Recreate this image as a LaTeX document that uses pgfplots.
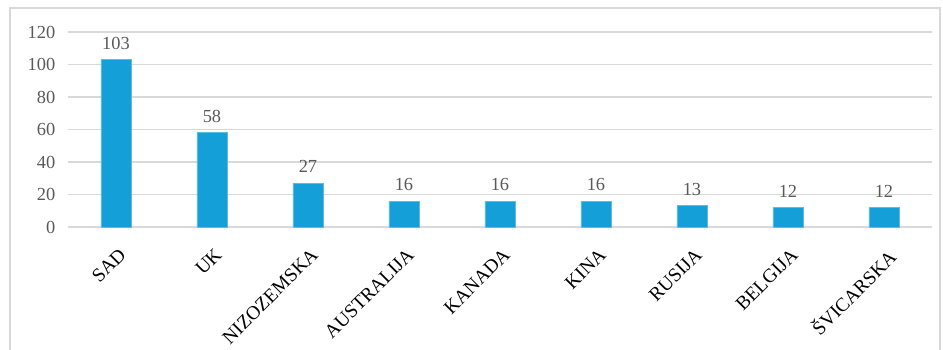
\documentclass[border=0pt]{standalone}
\usepackage{pgfplots}
\pgfplotsset{compat=1.18}
\usepackage{fontspec}
\setmainfont{Liberation Serif}
\definecolor{barblue}{HTML}{159FD9}
\definecolor{gridgray}{HTML}{D9D9D9}
\definecolor{txtgray}{HTML}{595959}
\begin{document}
\begin{tikzpicture}
\useasboundingbox (0pt,0pt) rectangle (707.25pt,262.5pt);
\draw[gridgray, line width=0.9pt] (7.5pt,-5pt) -- (7.5pt,256.5pt) -- (705pt,256.5pt) -- (705pt,-5pt);
\begin{axis}[
  at={(51pt,92.25pt)}, anchor=south west,
  scale only axis, width=648pt, height=146.25pt,
  xmin=-0.5, xmax=8.5, ymin=0, ymax=120,
  axis line style={draw=none},
  ytick={0,20,...,120},
  ymajorgrids, grid style={gridgray, line width=0.9pt},
  major tick length=0pt,
  xtick={0,...,8},
  xticklabels={SAD,UK,NIZOZEMSKA,AUSTRALIJA,KANADA,KINA,RUSIJA,BELGIJA,ŠVICARSKA},
  x tick label style={rotate=45, anchor=north east, font=\fontsize{14.5}{15}\selectfont, black, inner sep=1pt, yshift=-10.5pt, xshift=-8.5pt},
  y tick label style={font=\fontsize{13.8}{14}\selectfont, txtgray, xshift=-6pt},
  /pgf/number format/assume math mode=true,
  clip=false,
  nodes near coords,
  every node near coord/.append style={font=\fontsize{13.8}{14}\selectfont, txtgray, yshift=4pt},
]
\addplot[ybar, bar width=22.5pt, fill=barblue, draw=barblue!70!white, line width=0.6pt] coordinates {
(0,103) (1,58) (2,27) (3,16) (4,16) (5,16) (6,13) (7,12) (8,12)};
\end{axis}
\end{tikzpicture}
\end{document}
